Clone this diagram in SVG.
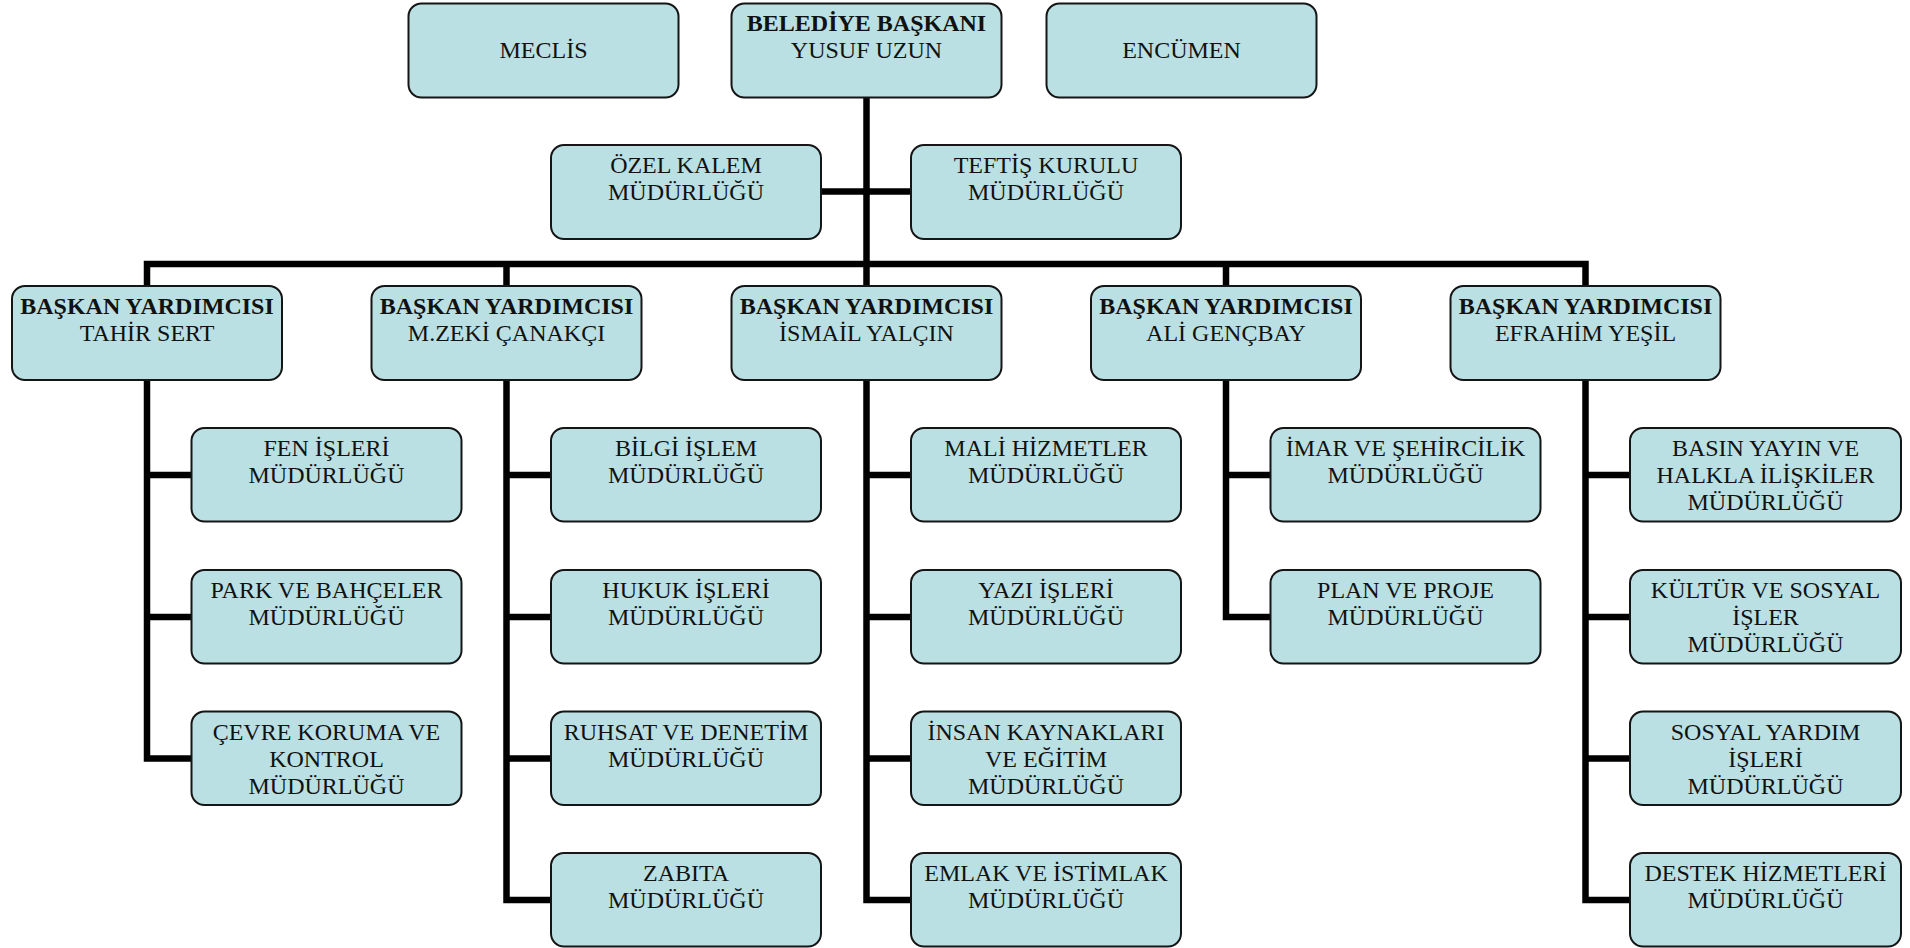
<svg xmlns="http://www.w3.org/2000/svg" width="1910" height="948" viewBox="0 0 1910 948">
<style>
.box{fill:#bae0e3;stroke:#151515;stroke-width:2}
.t{font-family:"Liberation Serif","Times New Roman",serif;font-size:24px;fill:#111;text-anchor:middle}
.b{font-weight:bold}
.c{fill:none;stroke:#000;stroke-width:6.5;stroke-linejoin:miter;stroke-linecap:butt}
</style>
<g id="connectors">
<path class="c" d="M866.5,97.5 V264"/>
<path class="c" d="M821,191.5 H911"/>
<path class="c" d="M147,286 V264 H1585.5 V286"/>
<path class="c" d="M506.5,264 V286 M866.5,264 V286 M1226,264 V286"/>
<path class="c" d="M147,380 V758.5 H191.5 M147,475 H191.5 M147,617 H191.5"/>
<path class="c" d="M506.5,380 V900 H551 M506.5,475 H551 M506.5,617 H551 M506.5,758.5 H551"/>
<path class="c" d="M866.5,380 V900 H911 M866.5,475 H911 M866.5,617 H911 M866.5,758.5 H911"/>
<path class="c" d="M1226,380 V617 H1270.5 M1226,475 H1270.5"/>
<path class="c" d="M1585.5,380 V900 H1630 M1585.5,475 H1630 M1585.5,617 H1630 M1585.5,758.5 H1630"/>
</g>
<g id="meclis"><rect class="box" x="408.5" y="3.5" width="270" height="94" rx="13"/><text class="t" x="543.5" y="58">MECLİS</text></g>
<g id="baskan"><rect class="box" x="731.5" y="3.5" width="270" height="94" rx="13"/><text class="t b" x="866.5" y="31">BELEDİYE BAŞKANI</text><text class="t" x="866.5" y="58">YUSUF UZUN</text></g>
<g id="encumen"><rect class="box" x="1046.5" y="3.5" width="270" height="94" rx="13"/><text class="t" x="1181.5" y="58">ENCÜMEN</text></g>
<g id="ozel-kalem"><rect class="box" x="551" y="145" width="270" height="94" rx="13"/><text class="t" x="686" y="173">ÖZEL KALEM</text><text class="t" x="686" y="200">MÜDÜRLÜĞÜ</text></g>
<g id="teftis"><rect class="box" x="911" y="145" width="270" height="94" rx="13"/><text class="t" x="1046" y="173">TEFTİŞ KURULU</text><text class="t" x="1046" y="200">MÜDÜRLÜĞÜ</text></g>
<g id="vp-tahir"><rect class="box" x="12" y="286" width="270" height="94" rx="13"/><text class="t b" x="147" y="314">BAŞKAN YARDIMCISI</text><text class="t" x="147" y="341">TAHİR SERT</text></g>
<g id="vp-zeki"><rect class="box" x="371.5" y="286" width="270" height="94" rx="13"/><text class="t b" x="506.5" y="314">BAŞKAN YARDIMCISI</text><text class="t" x="506.5" y="341">M.ZEKİ ÇANAKÇI</text></g>
<g id="vp-ismail"><rect class="box" x="731.5" y="286" width="270" height="94" rx="13"/><text class="t b" x="866.5" y="314">BAŞKAN YARDIMCISI</text><text class="t" x="866.5" y="341">İSMAİL YALÇIN</text></g>
<g id="vp-ali"><rect class="box" x="1091" y="286" width="270" height="94" rx="13"/><text class="t b" x="1226" y="314">BAŞKAN YARDIMCISI</text><text class="t" x="1226" y="341">ALİ GENÇBAY</text></g>
<g id="vp-efrahim"><rect class="box" x="1450.5" y="286" width="270" height="94" rx="13"/><text class="t b" x="1585.5" y="314">BAŞKAN YARDIMCISI</text><text class="t" x="1585.5" y="341">EFRAHİM YEŞİL</text></g>
<g id="fen"><rect class="box" x="191.5" y="428" width="270" height="93.5" rx="13"/><text class="t" x="326.5" y="456">FEN İŞLERİ</text><text class="t" x="326.5" y="483">MÜDÜRLÜĞÜ</text></g>
<g id="park"><rect class="box" x="191.5" y="570" width="270" height="93.5" rx="13"/><text class="t" x="326.5" y="598">PARK VE BAHÇELER</text><text class="t" x="326.5" y="625">MÜDÜRLÜĞÜ</text></g>
<g id="cevre"><rect class="box" x="191.5" y="711.5" width="270" height="93.5" rx="13"/><text class="t" x="326.5" y="739.5">ÇEVRE KORUMA VE</text><text class="t" x="326.5" y="766.5">KONTROL</text><text class="t" x="326.5" y="793.5">MÜDÜRLÜĞÜ</text></g>
<g id="bilgi"><rect class="box" x="551" y="428" width="270" height="93.5" rx="13"/><text class="t" x="686" y="456">BİLGİ İŞLEM</text><text class="t" x="686" y="483">MÜDÜRLÜĞÜ</text></g>
<g id="hukuk"><rect class="box" x="551" y="570" width="270" height="93.5" rx="13"/><text class="t" x="686" y="598">HUKUK İŞLERİ</text><text class="t" x="686" y="625">MÜDÜRLÜĞÜ</text></g>
<g id="ruhsat"><rect class="box" x="551" y="711.5" width="270" height="93.5" rx="13"/><text class="t" x="686" y="739.5">RUHSAT VE DENETİM</text><text class="t" x="686" y="766.5">MÜDÜRLÜĞÜ</text></g>
<g id="zabita"><rect class="box" x="551" y="853" width="270" height="93.5" rx="13"/><text class="t" x="686" y="881">ZABITA</text><text class="t" x="686" y="908">MÜDÜRLÜĞÜ</text></g>
<g id="mali"><rect class="box" x="911" y="428" width="270" height="93.5" rx="13"/><text class="t" x="1046" y="456">MALİ HİZMETLER</text><text class="t" x="1046" y="483">MÜDÜRLÜĞÜ</text></g>
<g id="yazi"><rect class="box" x="911" y="570" width="270" height="93.5" rx="13"/><text class="t" x="1046" y="598">YAZI İŞLERİ</text><text class="t" x="1046" y="625">MÜDÜRLÜĞÜ</text></g>
<g id="insan"><rect class="box" x="911" y="711.5" width="270" height="93.5" rx="13"/><text class="t" x="1046" y="739.5">İNSAN KAYNAKLARI</text><text class="t" x="1046" y="766.5">VE EĞİTİM</text><text class="t" x="1046" y="793.5">MÜDÜRLÜĞÜ</text></g>
<g id="emlak"><rect class="box" x="911" y="853" width="270" height="93.5" rx="13"/><text class="t" x="1046" y="881">EMLAK VE İSTİMLAK</text><text class="t" x="1046" y="908">MÜDÜRLÜĞÜ</text></g>
<g id="imar"><rect class="box" x="1270.5" y="428" width="270" height="93.5" rx="13"/><text class="t" x="1405.5" y="456">İMAR VE ŞEHİRCİLİK</text><text class="t" x="1405.5" y="483">MÜDÜRLÜĞÜ</text></g>
<g id="plan"><rect class="box" x="1270.5" y="570" width="270" height="93.5" rx="13"/><text class="t" x="1405.5" y="598">PLAN VE PROJE</text><text class="t" x="1405.5" y="625">MÜDÜRLÜĞÜ</text></g>
<g id="basin"><rect class="box" x="1630" y="428" width="271" height="93.5" rx="13"/><text class="t" x="1765.5" y="456">BASIN YAYIN VE</text><text class="t" x="1765.5" y="483">HALKLA İLİŞKİLER</text><text class="t" x="1765.5" y="510">MÜDÜRLÜĞÜ</text></g>
<g id="kultur"><rect class="box" x="1630" y="570" width="271" height="93.5" rx="13"/><text class="t" x="1765.5" y="598">KÜLTÜR VE SOSYAL</text><text class="t" x="1765.5" y="625">İŞLER</text><text class="t" x="1765.5" y="652">MÜDÜRLÜĞÜ</text></g>
<g id="sosyal"><rect class="box" x="1630" y="711.5" width="271" height="93.5" rx="13"/><text class="t" x="1765.5" y="739.5">SOSYAL YARDIM</text><text class="t" x="1765.5" y="766.5">İŞLERİ</text><text class="t" x="1765.5" y="793.5">MÜDÜRLÜĞÜ</text></g>
<g id="destek"><rect class="box" x="1630" y="853" width="271" height="93.5" rx="13"/><text class="t" x="1765.5" y="881">DESTEK HİZMETLERİ</text><text class="t" x="1765.5" y="908">MÜDÜRLÜĞÜ</text></g>
</svg>
